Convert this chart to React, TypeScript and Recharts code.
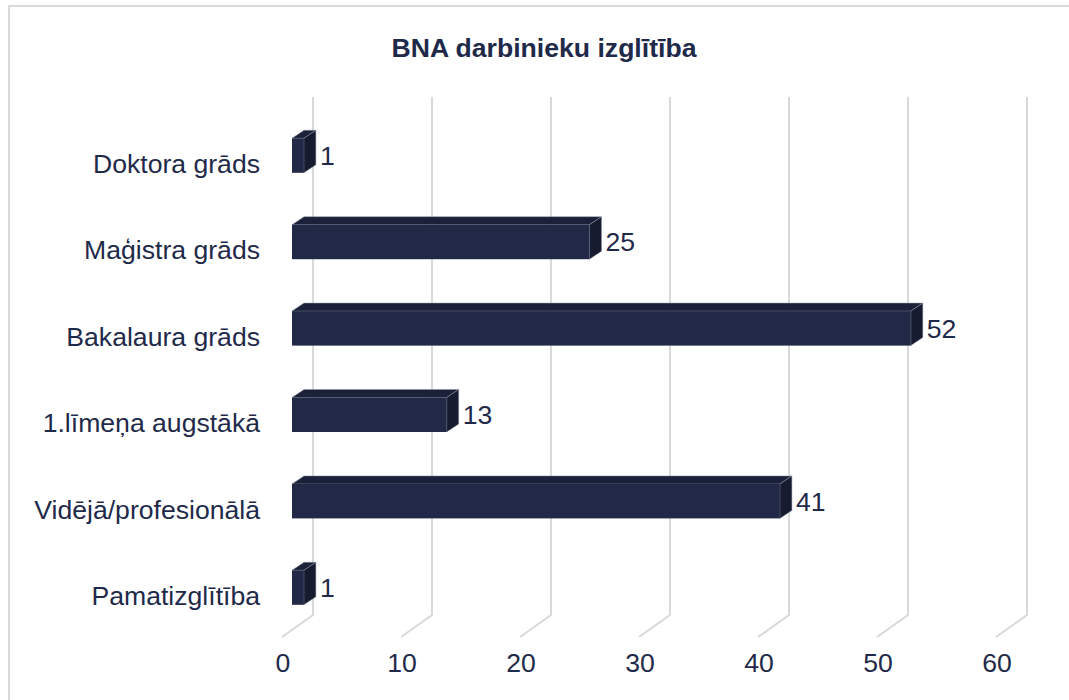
import React from "react";
import { BarChart, Bar, XAxis, YAxis, CartesianGrid, LabelList } from "recharts";

// Data
const categories = [
  "Doktora grāds",
  "Maģistra grāds",
  "Bakalaura grāds",
  "1.līmeņa augstākā",
  "Vidējā/profesionālā",
  "Pamatizglītība",
];
const counts = [1, 25, 52, 13, 41, 1];
const xTicks = [0, 10, 20, 30, 40, 50, 60];

const rows = categories.map((name, i) => ({ name, count: counts[i] }));

const TEXT = "#1f2a4a";
const FONT = "'Liberation Sans', Arial, sans-serif";
const FONT_SIZE = 26.6;
const DEPTH_X = 12;
const DEPTH_Y = 8;

// Box drawn by hand, recharts has no 3D bars
const Box3D = (props: any) => {
  const { x, y, width, height } = props;
  const r = x + width;
  const b = y + height;
  return (
    <g stroke="#8f94a6" strokeWidth={0.5}>
      <path
        d={`M${x},${y} L${x + DEPTH_X},${y - DEPTH_Y} L${r + DEPTH_X},${y - DEPTH_Y} L${r},${y} Z`}
        fill="#1b2139"
      />
      <path
        d={`M${r},${y} L${r + DEPTH_X},${y - DEPTH_Y} L${r + DEPTH_X},${b - DEPTH_Y} L${r},${b} Z`}
        fill="#161b30"
      />
      <rect x={x} y={y} width={width} height={height} fill="#212946" stroke="none" />
    </g>
  );
};

// Walls: the line runs up the back wall, then forward across the floor
const WallLine = (props: any) => {
  const { x1, index } = props;
  return (
    <path
      key={index}
      d={`M${x1 + 21},97 L${x1 + 21},615 L${x1 - 10},637`}
      fill="none"
      stroke="#d9d9d9"
      strokeWidth={2}
    />
  );
};

const App = () => {
  return (
    <div
      style={{
        position: "absolute",
        left: 0,
        top: 0,
        width: 1069,
        height: 700,
        background: "#fff",
        overflow: "hidden",
      }}
    >
      <div
        style={{
          position: "absolute",
          left: 8,
          top: 5,
          width: 1080,
          height: 720,
          boxSizing: "border-box",
          border: "2px solid #d9d9d9",
        }}
      />
      <div
        style={{
          position: "absolute",
          left: 0,
          top: 0,
        }}
      >
        <BarChart
          width={1069}
          height={700}
          data={rows}
          layout="vertical"
          margin={{ top: 112.3, right: 63, bottom: 0, left: 0 }}
          barCategoryGap="20%"
          style={{ fontFamily: FONT }}
        >
          <text
            x={544}
            y={57}
            textAnchor="middle"
            fontFamily={FONT}
            fontSize={FONT_SIZE}
            fontWeight="bold"
            fill={TEXT}
          >
            BNA darbinieku izglītība
          </text>
          <CartesianGrid horizontal={false} vertical={WallLine} />
          <XAxis
            type="number"
            domain={[0, 60]}
            ticks={xTicks}
            axisLine={false}
            tickLine={false}
            height={69.3}
            tick={{ fill: TEXT, fontSize: FONT_SIZE, dx: -9, dy: 14 }}
          />
          <YAxis
            type="category"
            dataKey="name"
            width={292}
            axisLine={false}
            tickLine={false}
            interval={0}
            tick={{ fill: TEXT, fontSize: FONT_SIZE, dx: -24, dy: 8 }}
          />
          <Bar
            dataKey="count"
            barSize={34.5}
            shape={Box3D}
            isAnimationActive={false}
          >
            <LabelList
              dataKey="count"
              position="right"
              offset={16}
              fill={TEXT}
              fontSize={FONT_SIZE}
            />
          </Bar>
        </BarChart>
      </div>
    </div>
  );
};

export default App;
